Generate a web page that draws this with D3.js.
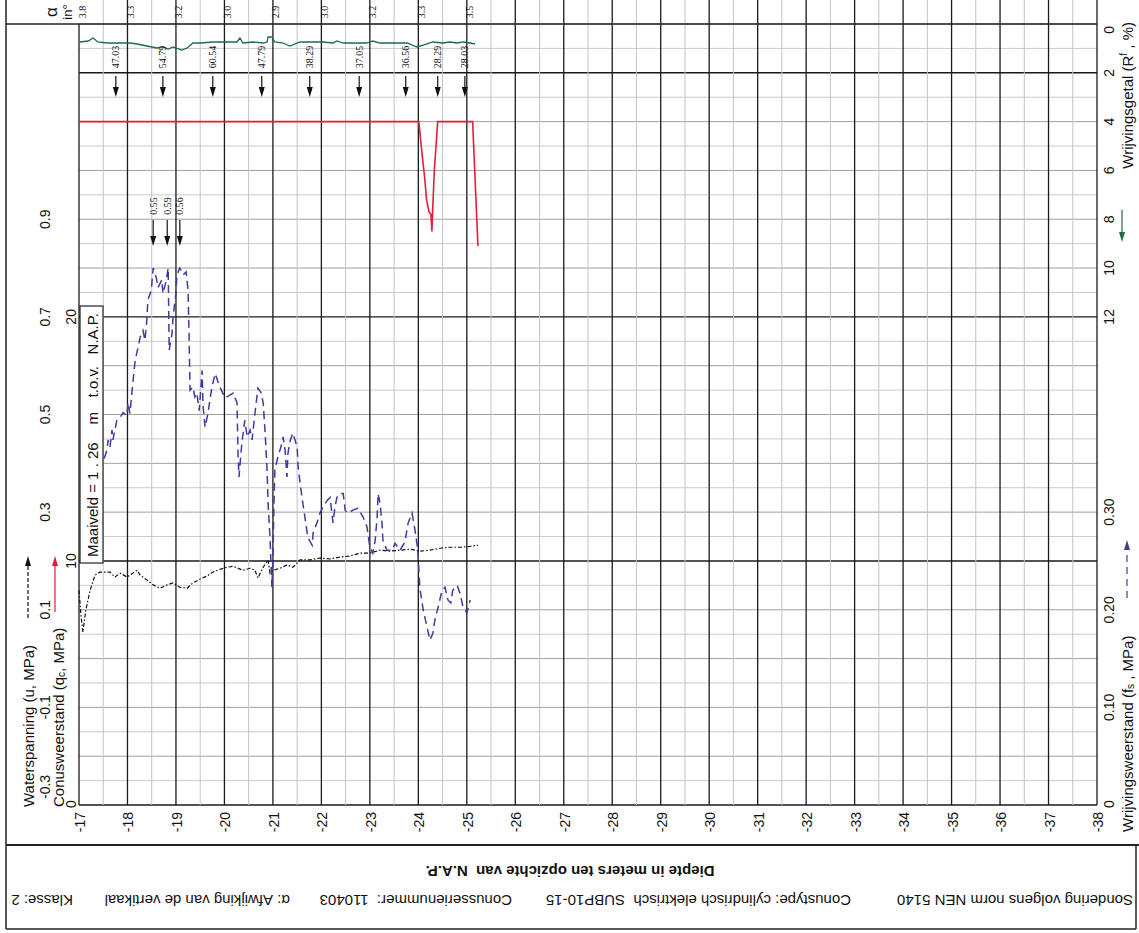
<!DOCTYPE html>
<html>
<head>
<meta charset="utf-8">
<script src="https://cdn.jsdelivr.net/npm/d3@7"></script>
<style>
  body { margin: 0; background: #fff; }
  svg { display: block; }
  text { font-family: "Liberation Sans", Arial, sans-serif; fill: #111; white-space: pre; }
  .serif { font-family: "Liberation Serif", "Times New Roman", serif; }
</style>
</head>
<body>
<script>
const SVG_W = 1139, SVG_H = 933;

// depth axis (m t.o.v. N.A.P.)
const depthTicks = [-17,-18,-19,-20,-21,-22,-23,-24,-25,-26,-27,-28,-29,-30,-31,-32,-33,-34,-35,-36,-37,-38];
const uTicks = [-0.3,-0.1,0.1,0.3,0.5,0.7,0.9];
const qcTicks = [0,10,20];
const rfTicks = [0,2,4,6,8,10,12];
const fsTicks = [0,0.10,0.20,0.30];

// helling per meter (header strip)
const alphaDepth = [-17,-18,-19,-20,-21,-22,-23,-24,-25];
const alphaLabel = ["3.8","3.3","3.2","3.0","2.9","3.0","3.2","3.3","3.5"];

// conusweerstand qc (MPa) - plotted clipped at 28
const qcDepth = [-17.00,-17.76,-18.73,-19.76,-20.77,-21.76,-22.78,-23.74,-24.01,-24.07,-24.13,-24.17,-24.22,-24.26,-24.28,-24.30,-24.33,-24.40,-24.96,-25.12,-25.23];
const qcValue = [31.0,47.03,54.79,60.54,47.79,38.29,37.05,36.56,28.1,26.8,25.7,24.8,24.3,24.2,23.5,24.6,26.0,28.29,28.03,28.1,22.9];
// off-scale maxima of qc
const qcMaxDepth = [-17.76,-18.73,-19.76,-20.77,-21.76,-22.78,-23.74,-24.40,-24.96];
const qcMaxLabel = ["47.03","54.79","60.54","47.79","38.29","37.05","36.56","28.29","28.03"];

// wrijvingsweerstand fs (MPa) - plotted clipped at 0.55
const fsDepth = [-17.52,-17.58,-17.60,-17.64,-17.68,-17.70,-17.78,-17.85,-17.91,-17.99,-18.01,-18.05,-18.11,-18.16,-18.22,-18.26,-18.32,-18.36,-18.40,-18.42,
  -18.49,-18.53,-18.59,-18.63,-18.71,-18.73,-18.79,-18.84,-18.86,-18.92,-18.94,-19.00,-19.02,-19.08,-19.15,-19.21,-19.25,-19.27,-19.29,-19.35,
  -19.39,-19.43,-19.48,-19.54,-19.56,-19.60,-19.66,-19.74,-19.81,-19.89,-20.01,-20.18,-20.26,-20.28,-20.30,-20.36,-20.42,-20.47,-20.53,-20.57,
  -20.63,-20.67,-20.69,-20.75,-20.80,-20.84,-20.88,-20.90,-20.94,-20.98,-21.00,-21.02,-21.04,-21.10,-21.19,-21.21,-21.25,-21.29,-21.31,-21.35,
  -21.41,-21.50,-21.52,-21.60,-21.66,-21.72,-21.81,-21.83,-21.91,-21.97,-22.03,-22.12,-22.18,-22.24,-22.28,-22.32,-22.38,-22.45,-22.49,-22.55,
  -22.65,-22.75,-22.86,-22.94,-23.00,-23.06,-23.11,-23.15,-23.17,-23.21,-23.25,-23.27,-23.35,-23.46,-23.52,-23.62,-23.72,-23.79,-23.87,-23.93,
  -23.99,-24.03,-24.10,-24.18,-24.24,-24.30,-24.34,-24.41,-24.49,-24.55,-24.61,-24.67,-24.71,-24.80,-24.86,-24.92,-25.00,-25.07];
const fsValue = [0.355,0.364,0.374,0.367,0.384,0.374,0.394,0.397,0.402,0.399,0.412,0.401,0.432,0.456,0.469,0.479,0.486,0.476,0.497,0.517,
  0.527,0.553,0.541,0.530,0.538,0.524,0.535,0.590,0.466,0.483,0.500,0.524,0.543,0.560,0.543,0.546,0.527,0.483,0.425,0.428,
  0.418,0.422,0.404,0.445,0.408,0.387,0.401,0.428,0.442,0.430,0.417,0.422,0.412,0.360,0.336,0.371,0.394,0.377,0.384,0.374,
  0.401,0.418,0.427,0.423,0.412,0.381,0.343,0.309,0.274,0.223,0.251,0.305,0.343,0.356,0.371,0.377,0.364,0.336,0.360,0.372,
  0.381,0.367,0.346,0.315,0.295,0.274,0.266,0.279,0.289,0.299,0.305,0.312,0.315,0.289,0.305,0.315,0.319,0.319,0.302,0.299,
  0.302,0.304,0.295,0.285,0.264,0.258,0.271,0.295,0.319,0.309,0.289,0.271,0.261,0.261,0.268,0.261,0.269,0.289,0.299,0.282,
  0.261,0.223,0.200,0.182,0.169,0.176,0.189,0.203,0.220,0.223,0.210,0.207,0.220,0.225,0.217,0.203,0.197,0.210];
const fsMaxDepth = [-18.53,-18.82,-19.08];
const fsMaxLabel = ["0.55","0.59","0.56"];

// waterspanning u (MPa)
const uDepth = [-17.00,-17.04,-17.08,-17.14,-17.23,-17.33,-17.43,-17.64,-17.74,-17.85,-17.99,-18.20,-18.26,-18.40,-18.53,-18.67,-18.82,-18.94,-19.08,-19.23,
  -19.35,-19.50,-19.64,-19.76,-19.91,-20.05,-20.18,-20.38,-20.53,-20.63,-20.69,-20.80,-20.90,-20.94,-21.00,-21.15,-21.29,-21.41,-21.56,-21.76,
  -21.97,-22.18,-22.38,-22.59,-22.80,-23.00,-23.21,-23.41,-23.62,-23.83,-24.03,-24.24,-24.45,-24.65,-24.86,-25.07,-25.23];
const uValue = [0.140,0.089,0.054,0.099,0.140,0.171,0.177,0.177,0.167,0.175,0.167,0.181,0.171,0.161,0.151,0.144,0.151,0.155,0.146,0.144,
  0.155,0.163,0.169,0.177,0.183,0.187,0.189,0.181,0.185,0.181,0.165,0.187,0.202,0.175,0.181,0.185,0.192,0.187,0.202,0.202,
  0.206,0.204,0.208,0.210,0.216,0.216,0.222,0.220,0.222,0.224,0.220,0.222,0.226,0.228,0.228,0.230,0.232];

// helling (graden)
const inclDepth = [-17.02,-17.19,-17.29,-17.39,-17.58,-17.85,-18.05,-18.20,-18.40,-18.61,-18.73,-18.84,-18.94,-19.12,-19.23,-19.35,-19.50,-19.76,-20.05,-20.26,
  -20.32,-20.38,-20.59,-20.80,-20.88,-20.90,-20.98,-21.04,-21.21,-21.35,-21.56,-21.83,-22.03,-22.24,-22.32,-22.45,-22.65,-22.94,-23.06,-23.21,
  -23.48,-23.77,-23.97,-24.10,-24.30,-24.51,-24.65,-24.80,-24.92,-25.07,-25.17];
const inclValue = [3.67,3.47,2.86,3.67,3.88,3.88,3.88,4.08,4.49,4.90,4.69,5.10,4.69,5.31,4.90,3.88,3.88,3.67,3.67,3.67,
  2.86,3.88,3.67,3.88,3.67,2.65,2.65,3.67,3.88,4.49,3.67,3.67,3.67,3.88,3.47,3.88,3.88,3.88,3.47,3.88,
  3.88,3.88,4.69,4.29,3.67,3.88,3.67,3.88,3.67,3.88,4.08];

const QC_CLIP = 28, FS_CLIP = 0.55;
const RED = "#e41e3a", BLUE = "#3d3d9e", GREEN = "#1f6b46";

const svg = d3.select("body").append("svg").attr("width", SVG_W).attr("height", SVG_H);

// scales
const x = d3.scaleLinear().domain([-17, -38]).range([79, 1097]);
const yQc = d3.scaleLinear().domain([0, 32]).range([805, 24]);
const yU = d3.scaleLinear().domain([-0.3, 1.3]).range([805, 24]);
const yFs = d3.scaleLinear().domain([0, 0.8]).range([805, 24]);
const yRf = d3.scaleLinear().domain([0, 32]).range([24, 805]);
const yIncl = d3.scaleLinear().domain([0, 20]).range([24, 122]);

// grid
const grid = svg.append("g").attr("class", "grid");
const cells = d3.range(0, 33);
grid.selectAll("line.h").data(cells).join("line")
  .attr("class", "h")
  .attr("x1", x(-17)).attr("x2", x(-38))
  .attr("y1", d => yQc(d)).attr("y2", d => yQc(d))
  .attr("stroke", d => d % 10 === 0 ? "#1a1a1a" : d % 2 === 0 ? "#a0a0a0" : "#cbcbcb")
  .attr("stroke-width", d => d % 10 === 0 ? 1.4 : 1);

const halfMeters = d3.range(0, 43).map(i => -17 - i * 0.5);
grid.selectAll("line.v").data(halfMeters).join("line")
  .attr("class", "v")
  .attr("x1", d => x(d)).attr("x2", d => x(d))
  .attr("y1", d => d === -17 ? 24 : 0).attr("y2", 805)
  .attr("stroke", d => Number.isInteger(d) ? "#1a1a1a" : "#c4c4c4")
  .attr("stroke-width", d => Number.isInteger(d) ? 1.3 : 1);

// frame lines
const frame = svg.append("g").attr("stroke", "#222").attr("stroke-width", 1.5);
frame.append("line").attr("x1", 6).attr("x2", 6).attr("y1", 0).attr("y2", 929);
frame.append("line").attr("x1", 6).attr("x2", x(-38)).attr("y1", 24).attr("y2", 24);
frame.append("line").attr("x1", 6).attr("x2", SVG_W).attr("y1", 845).attr("y2", 845).attr("stroke-width", 2);
frame.append("line").attr("x1", 6).attr("x2", 1136).attr("y1", 929).attr("y2", 929);
frame.append("line").attr("x1", 1136).attr("x2", 1136).attr("y1", 845).attr("y2", 929);

// data tables
const qcData = qcDepth.map((d, i) => ({ d: d, v: qcValue[i] }));
const fsData = fsDepth.map((d, i) => ({ d: d, v: fsValue[i] }));
const uData = uDepth.map((d, i) => ({ d: d, v: uValue[i] }));
const inclData = inclDepth.map((d, i) => ({ d: d, v: inclValue[i] }));

const plot = svg.append("g").attr("class", "plot").attr("fill", "none");

// helling
plot.append("path")
  .attr("d", d3.line().x(d => x(d.d)).y(d => yIncl(d.v))(inclData))
  .attr("stroke", GREEN).attr("stroke-width", 1.3);

// waterspanning
plot.append("path")
  .attr("d", d3.line().x(d => x(d.d)).y(d => yU(d.v))(uData))
  .attr("stroke", "#111").attr("stroke-width", 1.2)
  .attr("stroke-dasharray", "4,2,1.5,2");

// wrijvingsweerstand
plot.append("path")
  .attr("d", d3.line().x(d => x(d.d)).y(d => yFs(Math.min(d.v, FS_CLIP)))(fsData))
  .attr("stroke", BLUE).attr("stroke-width", 1.5)
  .attr("stroke-dasharray", "8,5");

// conusweerstand
plot.append("path")
  .attr("d", d3.line().x(d => x(d.d)).y(d => yQc(Math.min(d.v, QC_CLIP)))(qcData))
  .attr("stroke", RED).attr("stroke-width", 1.6);

// arrow helper (tip at y2)
function arrow(g, xp, y1, y2, color, dash) {
  const dir = y2 > y1 ? 1 : -1;
  g.append("line").attr("x1", xp).attr("x2", xp).attr("y1", y1).attr("y2", y2 - dir * 8)
    .attr("stroke", color).attr("stroke-width", 1.2).attr("stroke-dasharray", dash || null);
  g.append("path")
    .attr("d", `M${xp - 3},${y2 - dir * 10}L${xp + 3},${y2 - dir * 10}L${xp},${y2}Z`)
    .attr("fill", color);
}

// off-scale qc maxima
const ann = svg.append("g");
qcMaxDepth.forEach((d, i) => {
  arrow(ann, x(d), 76, 97, "#111");
  ann.append("text").attr("class", "serif")
    .attr("transform", `translate(${x(d)},57) rotate(-90)`)
    .attr("text-anchor", "middle").attr("dominant-baseline", "central")
    .style("font-size", "10px").text(qcMaxLabel[i]);
});
// off-scale fs maxima
fsMaxDepth.forEach((d, i) => {
  arrow(ann, x(d), 220, 246, "#111");
  ann.append("text").attr("class", "serif")
    .attr("transform", `translate(${x(d)},206) rotate(-90)`)
    .attr("text-anchor", "middle").attr("dominant-baseline", "central")
    .style("font-size", "10px").text(fsMaxLabel[i]);
});

// header alpha values
alphaDepth.forEach((d, i) => {
  ann.append("text").attr("class", "serif")
    .attr("transform", `translate(${x(d) + 3},12) rotate(-90)`)
    .attr("text-anchor", "middle").attr("dominant-baseline", "central")
    .style("font-size", "10px").text(alphaLabel[i]);
});
ann.append("text").attr("transform", "translate(51,12) rotate(-90)")
  .attr("text-anchor", "middle").attr("dominant-baseline", "central")
  .style("font-size", "17px").text("α");
ann.append("text").attr("transform", "translate(67,12) rotate(-90)")
  .attr("text-anchor", "middle").attr("dominant-baseline", "central")
  .style("font-size", "13px").text("in°");

// maaiveld box
const box = svg.append("g").style("font-size", "15px");
box.append("rect").attr("x", 80).attr("y", 306).attr("width", 23).attr("height", 257)
  .attr("fill", "#fff").attr("stroke", "#222").attr("stroke-width", 1.2);
box.append("text").attr("transform", "translate(92,557) rotate(-90)")
  .attr("dominant-baseline", "central").text("Maaiveld = 1 . 26");
[["N.A.P.", 313], ["t.o.v.", 366], ["m", 412]].forEach(p => {
  box.append("text").attr("transform", `translate(92,${p[1]}) rotate(-90)`)
    .attr("text-anchor", "end").attr("dominant-baseline", "central").text(p[0]);
});

// rotated tick labels
const labels = svg.append("g").style("font-size", "14px");
function vlabel(xp, yp, txt, anchor) {
  return labels.append("text")
    .attr("transform", `translate(${xp},${yp}) rotate(-90)`)
    .attr("text-anchor", anchor || "middle").attr("dominant-baseline", "central")
    .text(txt);
}
depthTicks.forEach(d => vlabel(x(d) + 1, 812, d, "end"));
uTicks.forEach((v, i) => vlabel(45, i === 0 ? 799 : yU(v), d3.format(".1f")(v).replace("−", "-"), i === 0 ? "start" : "middle"));
qcTicks.forEach((v, i) => vlabel(71, i === 0 ? 808 : yQc(v), v, i === 0 ? "start" : "middle"));
rfTicks.forEach((v, i) => vlabel(1109, i === 0 ? 26 : yRf(v), v, i === 0 ? "end" : "middle"));
fsTicks.forEach((v, i) => vlabel(1109, i === 0 ? 808 : yFs(v), i === 0 ? "0" : d3.format(".2f")(v), i === 0 ? "start" : "middle"));

// axis titles: parts are [text, dy, small]
function vtitle(xp, yp, parts, anchor) {
  const t = labels.append("text")
    .attr("transform", `translate(${xp},${yp}) rotate(-90)`)
    .attr("text-anchor", anchor).attr("dominant-baseline", "central")
    .style("font-size", "15px");
  parts.forEach(p => {
    const s = t.append("tspan").text(p[0]);
    if (p[1]) s.attr("dy", p[1]);
    if (p[2]) s.style("font-size", "10px");
  });
  return t;
}
vtitle(28, 807, [["Waterspanning (u, MPa)"]], "start");
vtitle(58, 807, [["Conusweerstand (q"], ["c", 3, true], [", MPa)", -3]], "start");
vtitle(1127, 832, [["Wrijvingsweerstand (f"], ["s", 3, true], [" , MPa)", -3]], "start");
vtitle(1127, 22, [["Wrijvingsgetal (R"], ["f", -4, true], [" , %)", 4]], "end");

// legend arrows
const leg = svg.append("g");
arrow(leg, 28, 618, 556, "#111", "4,2");
arrow(leg, 55, 612, 556, RED);
arrow(leg, 1122, 210, 242, GREEN);
arrow(leg, 1127, 598, 540, BLUE, "7,5");

// footer (upside down)
const foot = svg.append("g");
function ftext(xp, yp, txt, bold) {
  foot.append("text")
    .attr("transform", `translate(${xp},${yp}) rotate(180)`)
    .attr("dominant-baseline", "central")
    .style("font-size", "15px").style("font-weight", bold ? "bold" : "normal")
    .attr("text-anchor", bold ? "middle" : "start")
    .text(txt);
}
ftext(570, 871, "Diepte in meters ten opzichte van  N.A.P.", true);
ftext(1133, 900, "Sondering volgens norm NEN 5140");
ftext(851, 900, "Conustype: cylindrisch elektrisch  SUBP10-15");
ftext(512, 900, "Conusserienummer:  110403");
ftext(290, 900, "α: Afwijking van de vertikaal");
ftext(73, 900, "Klasse: 2");
</script>
</body>
</html>
